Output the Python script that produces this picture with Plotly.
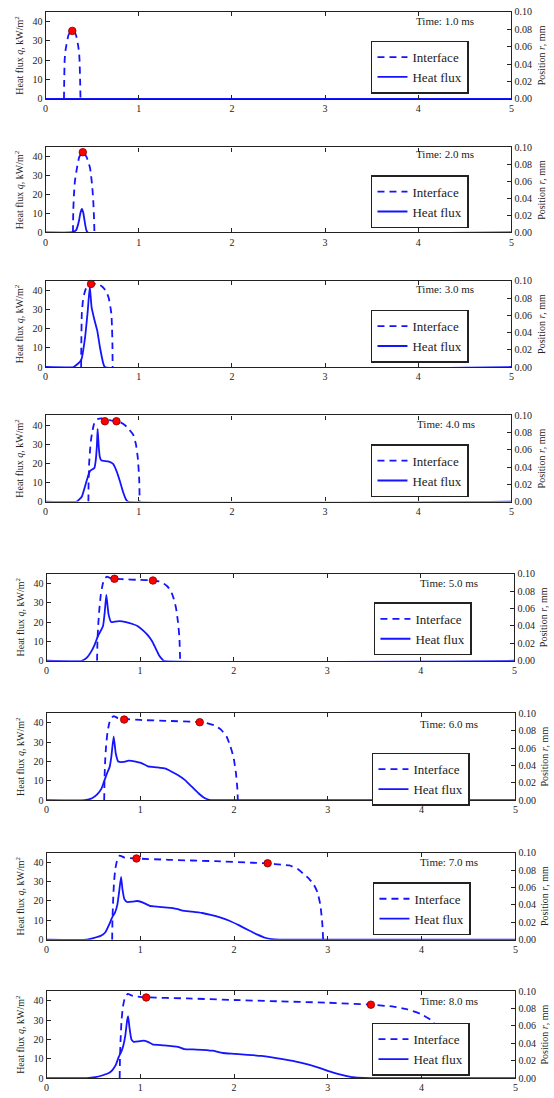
import plotly.graph_objects as go

# ---------------- data ----------------
times = ["1.0", "2.0", "3.0", "4.0", "5.0", "6.0", "7.0", "8.0"]

# interface position r (mm) vs axial coordinate (dashed, right axis)
interface_x = [
    [0.198, 0.200, 0.205, 0.214, 0.223, 0.244, 0.265, 0.287, 0.308, 0.329, 0.350, 0.360, 0.365, 0.371, 0.375],
    [0.294, 0.298, 0.305, 0.315, 0.337, 0.362, 0.400, 0.440, 0.478, 0.500, 0.512, 0.520, 0.525],
    [0.382, 0.384, 0.389, 0.400, 0.414, 0.442, 0.470, 0.500, 0.566, 0.610, 0.636, 0.660, 0.679, 0.697, 0.707, 0.714, 0.718, 0.720],
    [0.460, 0.462, 0.468, 0.478, 0.490, 0.500, 0.520, 0.550, 0.600, 0.700, 0.800, 0.850, 0.900, 0.940, 0.970, 0.990, 1.005, 1.010],
    [0.540, 0.544, 0.552, 0.565, 0.580, 0.600, 0.620, 0.645, 0.690, 0.800, 1.000, 1.140, 1.200, 1.250, 1.290, 1.330, 1.360, 1.385, 1.405, 1.420, 1.428],
    [0.615, 0.618, 0.625, 0.635, 0.650, 0.670, 0.690, 0.715, 0.760, 0.850, 1.000, 1.300, 1.600, 1.700, 1.800, 1.860, 1.920, 1.960, 1.995, 2.020, 2.035, 2.040],
    [0.700, 0.703, 0.710, 0.720, 0.735, 0.755, 0.780, 0.830, 0.950, 1.300, 1.800, 2.200, 2.370, 2.500, 2.590, 2.680, 2.740, 2.800, 2.850, 2.890, 2.920, 2.940, 2.950],
    [0.780, 0.783, 0.790, 0.800, 0.815, 0.835, 0.865, 0.920, 1.050, 1.500, 2.000, 2.500, 3.000, 3.460, 3.700, 3.850, 4.000, 4.100, 4.170, 4.220, 4.250, 4.265, 4.270],
]
interface_r = [
    [0, 0.0178, 0.0444, 0.0556, 0.0613, 0.0727, 0.0773, 0.0782, 0.0773, 0.0727, 0.0613, 0.0533, 0.0444, 0.0222, 0],
    [0, 0.0267, 0.0444, 0.0600, 0.0756, 0.0889, 0.0944, 0.0889, 0.0756, 0.0556, 0.0378, 0.0178, 0],
    [0, 0.0267, 0.0616, 0.0756, 0.0844, 0.0938, 0.0964, 0.0967, 0.0962, 0.0933, 0.0900, 0.0856, 0.0800, 0.0689, 0.0616, 0.0444, 0.0267, 0],
    [0, 0.0222, 0.0444, 0.0600, 0.0733, 0.0800, 0.0900, 0.0956, 0.0967, 0.0944, 0.0922, 0.0889, 0.0833, 0.0778, 0.0667, 0.0511, 0.0267, 0],
    [0, 0.0222, 0.0400, 0.0600, 0.0756, 0.0878, 0.0944, 0.0967, 0.0947, 0.0938, 0.0929, 0.0922, 0.0911, 0.0889, 0.0856, 0.0800, 0.0711, 0.0600, 0.0444, 0.0267, 0],
    [0, 0.0222, 0.0444, 0.0622, 0.0778, 0.0889, 0.0944, 0.0967, 0.0944, 0.0933, 0.0922, 0.0911, 0.0900, 0.0889, 0.0856, 0.0811, 0.0733, 0.0622, 0.0489, 0.0311, 0.0133, 0],
    [0, 0.0222, 0.0444, 0.0667, 0.0822, 0.0922, 0.0967, 0.0944, 0.0933, 0.0918, 0.0902, 0.0884, 0.0876, 0.0862, 0.0853, 0.0811, 0.0756, 0.0700, 0.0633, 0.0544, 0.0400, 0.0200, 0],
    [0, 0.0222, 0.0444, 0.0667, 0.0822, 0.0922, 0.0967, 0.0944, 0.0929, 0.0916, 0.0898, 0.0882, 0.0867, 0.0844, 0.0822, 0.0789, 0.0733, 0.0667, 0.0578, 0.0444, 0.0267, 0.0111, 0],
]

# heat flux q (kW/m^2) (solid, left axis)
flux_x = [
    [0, 5],
    [0, 0.27, 0.30, 0.33, 0.345, 0.36, 0.375, 0.39, 0.405, 0.418, 0.43, 0.44, 0.452, 5],
    [0, 0.30, 0.347, 0.372, 0.389, 0.405, 0.425, 0.453, 0.475, 0.495, 0.523, 0.555, 0.583, 0.619, 0.636, 5],
    [0, 0.336, 0.39, 0.442, 0.478, 0.524, 0.54, 0.552, 0.559, 0.572, 0.584, 0.600, 0.672, 0.725, 0.760, 0.796, 0.832, 0.867, 0.885, 5],
    [0, 0.375, 0.428, 0.48, 0.516, 0.551, 0.579, 0.604, 0.622, 0.639, 0.663, 0.691, 0.726, 0.779, 0.849, 0.919, 0.972, 1.025, 1.077, 1.13, 1.165, 1.2, 1.235, 1.253, 5],
    [0, 0.41, 0.485, 0.54, 0.586, 0.616, 0.646, 0.672, 0.69, 0.716, 0.739, 0.765, 0.82, 0.877, 0.951, 1.007, 1.082, 1.175, 1.27, 1.325, 1.40, 1.474, 1.549, 1.623, 1.68, 1.735, 1.77, 5],
    [0, 0.43, 0.50, 0.58, 0.63, 0.67, 0.70, 0.73, 0.755, 0.775, 0.795, 0.81, 0.83, 0.86, 0.92, 0.97, 1.03, 1.07, 1.10, 1.20, 1.32, 1.40, 1.45, 1.55, 1.66, 1.75, 1.85, 1.95, 2.05, 2.15, 2.25, 2.33, 2.40, 2.48, 5],
    [0, 0.43, 0.52, 0.60, 0.66, 0.70, 0.74, 0.77, 0.80, 0.82, 0.84, 0.86, 0.87, 0.885, 0.905, 0.93, 0.98, 1.03, 1.08, 1.13, 1.25, 1.40, 1.47, 1.60, 1.77, 1.88, 2.00, 2.29, 2.52, 2.71, 2.90, 3.05, 3.17, 3.27, 3.38, 3.45, 5],
]
flux_q = [
    [0, 0],
    [0, 0, 0.3, 1.4, 3.5, 6.5, 10.5, 12.5, 10.5, 6.5, 3, 1, 0, 0],
    [0, 0, 1.7, 2.9, 4.6, 9, 15.7, 29.4, 42, 31, 25, 19, 10.6, 2, 0, 0],
    [0, 0, 2.6, 11, 16, 17.5, 22, 30, 38, 28, 23, 21.4, 21, 19.7, 16.2, 11, 5, 0.8, 0, 0],
    [0, 0, 1.5, 5, 8.5, 13, 15.5, 18, 25, 34, 24, 20, 20.2, 20.5, 20, 19, 18, 16, 13.5, 10, 6.5, 3, 0.8, 0, 0],
    [0, 0, 1, 3, 6, 10, 14, 17, 22, 33, 24, 20, 19.8, 20.5, 20, 19.3, 17.5, 17, 16.3, 15, 13, 10.5, 7, 3.5, 1.3, 0.2, 0, 0],
    [0, 0, 0.8, 2, 4, 8, 11.5, 14, 18, 25, 32.5, 26, 21, 19.5, 19.7, 20, 19.2, 18.2, 17.5, 17, 16.4, 15.8, 15, 14.5, 13.8, 12.8, 11.5, 9.8, 7.5, 5, 2.6, 1, 0.3, 0, 0],
    [0, 0, 0.5, 1.5, 2.5, 4, 7, 11, 14, 17, 22, 30, 32, 26, 20, 18.8, 19, 19.4, 18.8, 17.5, 17, 16.2, 15, 14.8, 14.2, 13, 12.6, 11.5, 9.8, 8, 5.5, 3, 1.5, 0.5, 0.1, 0, 0],
]

# red markers on the interface
dot_x = [[0.287], [0.400], [0.488], [0.637, 0.761], [0.726, 1.137], [0.828, 1.634], [0.959, 2.358], [1.063, 3.459]]
dot_r = [[0.0782], [0.0944], [0.0965], [0.0933, 0.0933], [0.0942, 0.0922], [0.0927, 0.0896], [0.0933, 0.0878], [0.0927, 0.0844]]

x_ticks = [0, 1, 2, 3, 4, 5]
q_ticks = [0, 10, 20, 30, 40]
r_ticks = [0.00, 0.02, 0.04, 0.06, 0.08, 0.10]

# ---------------- layout geometry (pixels) ----------------
W, H = 554, 1098
rows_px = [(6, 94), (143, 229), (278, 365), (414, 501), (574, 662), (715, 803), (856, 944), (996, 1084)]
cols_px = [(43, 514)] * 4 + [(44, 517)] + [(44, 518)] * 3
legend_top = [29, 28, 29, 29, 29, 40, 30, 32]
legend_left = [372, 372, 372, 372, 375, 373, 374, 373]
time_dy = [9, 7, 8, 9, 9, 11, 9, 10]
time_right = [478, 478, 478, 479, 482, 482, 482, 482]

SERIF = "Liberation Serif, Times New Roman, serif"
BLUE = "#1414ff"
INK = "#222222"

fig = go.Figure()
layout = dict(
    width=W, height=H, margin=dict(l=0, r=0, t=0, b=0),
    paper_bgcolor="white", plot_bgcolor="white",
    font=dict(family=SERIF, color=INK, size=10),
    showlegend=True, annotations=[],
)

for i in range(8):
    n = i + 1
    xname = "x" if n == 1 else f"x{n}"
    ly = 2 * i + 1
    ry = 2 * i + 2
    lyname = "y" if ly == 1 else f"y{ly}"
    ryname = f"y{ry}"
    legname = "legend" if n == 1 else f"legend{n}"
    top, bot = rows_px[i]
    xl, xr = cols_px[i]
    ydom = [1 - bot / H, 1 - top / H]
    xdom = [xl / W, xr / W]

    axis_common = dict(showline=True, linecolor=INK, linewidth=1.2, ticks="inside",
                       ticklen=4, tickwidth=1, tickcolor=INK, showgrid=False, zeroline=False,
                       tickfont=dict(family=SERIF, size=10, color=INK))

    layout["xaxis" if n == 1 else f"xaxis{n}"] = dict(
        domain=xdom, anchor=lyname, range=[0, 5], tickvals=x_ticks,
        ticktext=[str(v) for v in x_ticks], mirror="ticks", **axis_common)
    layout["yaxis" if ly == 1 else f"yaxis{ly}"] = dict(
        domain=ydom, anchor=xname, range=[0, 45], tickvals=q_ticks,
        title=dict(text="Heat flux <i>q</i>, kW/m<sup>2</sup>", font=dict(family=SERIF, size=10, color=INK), standoff=6),
        **axis_common)
    layout[f"yaxis{ry}"] = dict(
        domain=ydom, anchor=xname, overlaying=lyname, side="right", range=[0, 0.1],
        tickvals=r_ticks, ticktext=[f"{v:.2f}" for v in r_ticks],
        title=dict(text="Position <i>r</i>, mm", font=dict(family=SERIF, size=10, color=INK), standoff=6),
        **axis_common)

    layout[legname] = dict(
        x=legend_left[i] / W, y=1 - (top + legend_top[i]) / H, xanchor="left", yanchor="top",
        bgcolor="white", bordercolor=INK, borderwidth=1.5,
        font=dict(family=SERIF, size=13, color=INK), itemwidth=30, tracegroupgap=0,
        traceorder="normal")

    fig.add_trace(go.Scatter(
        x=flux_x[i], y=flux_q[i], mode="lines", name="Heat flux",
        line=dict(color=BLUE, width=1.8, shape="spline", smoothing=0.4),
        xaxis=xname, yaxis=lyname, legend=legname, legendrank=2, showlegend=True))
    fig.add_trace(go.Scatter(
        x=interface_x[i], y=interface_r[i], mode="lines", name="Interface",
        line=dict(color=BLUE, width=1.8, dash="7px,5px", shape="spline", smoothing=0.4),
        xaxis=xname, yaxis=ryname, legend=legname, legendrank=1, showlegend=True))
    fig.add_trace(go.Scatter(
        x=dot_x[i], y=dot_r[i], mode="markers", showlegend=False,
        marker=dict(color="#ff0000", size=7.5, line=dict(color="#800000", width=0.8)),
        cliponaxis=False, xaxis=xname, yaxis=ryname))

    layout["annotations"].append(dict(
        text=f"Time: {times[i]} ms", showarrow=False,
        xref=f"{xname} domain", yref=f"{lyname} domain",
        x=(time_right[i] - xl) / (xr - xl), y=1 - time_dy[i] / (bot - top),
        xanchor="right", yanchor="middle",
        font=dict(family=SERIF, size=11, color=INK)))

fig.update_layout(**layout)
fig.write_html("out.html")
